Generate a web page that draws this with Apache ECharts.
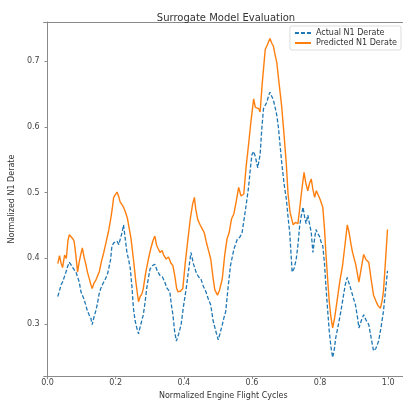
<!DOCTYPE html>
<html>
<head>
<meta charset="utf-8">
<title>Surrogate Model Evaluation</title>
<script src="https://cdn.jsdelivr.net/npm/echarts@6/dist/echarts.min.js"></script>
<style>
  html, body { margin: 0; padding: 0; background: #fff; }
  #main { width: 403px; height: 405px; }
</style>
</head>
<body>
<div id="main"></div>
<script type="text/javascript">
// values, [cycle, derate]
var actualPoints = [
  [0.030,0.342],[0.035,0.343],[0.040,0.360],[0.044,0.364],[0.049,0.366],[0.054,0.379],[0.059,0.388],[0.064,0.394],
  [0.069,0.390],[0.074,0.386],[0.078,0.386],[0.084,0.378],[0.093,0.364],[0.098,0.349],[0.102,0.346],[0.107,0.338],
  [0.112,0.329],[0.117,0.320],[0.122,0.314],[0.127,0.309],[0.131,0.299],[0.136,0.310],[0.141,0.319],[0.146,0.330],
  [0.151,0.345],[0.156,0.354],[0.163,0.362],[0.170,0.369],[0.176,0.376],[0.180,0.379],[0.185,0.398],[0.189,0.419],
  [0.195,0.424],[0.204,0.426],[0.209,0.421],[0.214,0.424],[0.219,0.440],[0.223,0.451],[0.228,0.430],[0.233,0.409],
  [0.238,0.398],[0.243,0.384],[0.248,0.355],[0.252,0.324],[0.257,0.305],[0.262,0.294],[0.267,0.285],[0.272,0.296],
  [0.281,0.314],[0.286,0.332],[0.291,0.354],[0.296,0.370],[0.301,0.384],[0.308,0.389],[0.315,0.391],[0.322,0.381],
  [0.330,0.374],[0.337,0.372],[0.344,0.364],[0.350,0.355],[0.359,0.349],[0.363,0.331],[0.368,0.314],[0.373,0.289],
  [0.378,0.274],[0.385,0.285],[0.392,0.299],[0.399,0.327],[0.407,0.354],[0.414,0.382],[0.421,0.409],[0.428,0.392],
  [0.436,0.379],[0.443,0.372],[0.450,0.369],[0.457,0.358],[0.465,0.349],[0.472,0.338],[0.479,0.329],[0.486,0.305],
  [0.494,0.289],[0.501,0.276],[0.507,0.287],[0.513,0.299],[0.518,0.310],[0.523,0.319],[0.530,0.356],[0.537,0.389],
  [0.547,0.414],[0.557,0.429],[0.564,0.432],[0.571,0.439],[0.581,0.474],[0.590,0.508],[0.596,0.540],[0.600,0.558],
  [0.605,0.563],[0.610,0.555],[0.617,0.538],[0.624,0.558],[0.629,0.598],[0.634,0.628],[0.639,0.631],[0.644,0.638],
  [0.649,0.648],[0.653,0.653],[0.658,0.647],[0.663,0.641],[0.668,0.630],[0.673,0.618],[0.678,0.598],[0.683,0.570],
  [0.687,0.548],[0.694,0.515],[0.701,0.490],[0.706,0.463],[0.711,0.439],[0.718,0.379],[0.724,0.385],[0.730,0.399],
  [0.735,0.420],[0.740,0.449],[0.745,0.465],[0.750,0.478],[0.755,0.462],[0.759,0.453],[0.764,0.466],[0.769,0.464],
  [0.774,0.440],[0.779,0.409],[0.784,0.430],[0.788,0.444],[0.793,0.438],[0.798,0.434],[0.803,0.425],[0.808,0.419],
  [0.813,0.392],[0.817,0.359],[0.822,0.323],[0.827,0.289],[0.832,0.265],[0.837,0.249],[0.842,0.262],[0.846,0.279],
  [0.853,0.297],[0.861,0.319],[0.868,0.341],[0.874,0.360],[0.880,0.371],[0.885,0.362],[0.890,0.354],[0.897,0.341],
  [0.904,0.329],[0.910,0.310],[0.914,0.294],[0.921,0.305],[0.928,0.314],[0.935,0.306],[0.943,0.299],[0.950,0.279],
  [0.957,0.259],[0.964,0.263],[0.972,0.274],[0.979,0.295],[0.986,0.319],[0.992,0.350],[0.998,0.381]
];
var predictedPoints = [
  [0.030,0.392],[0.035,0.404],[0.040,0.392],[0.044,0.386],[0.050,0.405],[0.055,0.400],[0.060,0.428],[0.064,0.436],
  [0.069,0.439],[0.074,0.430],[0.078,0.426],[0.083,0.405],[0.088,0.379],[0.093,0.395],[0.097,0.405],[0.102,0.416],
  [0.107,0.402],[0.112,0.392],[0.117,0.379],[0.122,0.370],[0.127,0.360],[0.131,0.354],[0.136,0.362],[0.141,0.366],
  [0.146,0.366],[0.152,0.380],[0.158,0.395],[0.165,0.409],[0.172,0.425],[0.180,0.444],[0.186,0.462],[0.190,0.476],
  [0.194,0.493],[0.199,0.497],[0.204,0.501],[0.209,0.494],[0.213,0.486],[0.218,0.489],[0.223,0.478],[0.229,0.470],
  [0.234,0.462],[0.238,0.459],[0.245,0.430],[0.252,0.399],[0.259,0.365],[0.264,0.345],[0.267,0.334],[0.272,0.342],
  [0.277,0.346],[0.281,0.354],[0.288,0.378],[0.296,0.399],[0.303,0.415],[0.310,0.428],[0.315,0.434],[0.320,0.420],
  [0.325,0.423],[0.330,0.409],[0.336,0.412],[0.341,0.405],[0.348,0.399],[0.355,0.402],[0.362,0.393],[0.368,0.389],
  [0.374,0.372],[0.379,0.354],[0.383,0.349],[0.390,0.350],[0.397,0.354],[0.404,0.392],[0.412,0.429],[0.419,0.460],
  [0.426,0.483],[0.431,0.493],[0.435,0.475],[0.441,0.459],[0.447,0.452],[0.454,0.445],[0.460,0.439],[0.466,0.425],
  [0.473,0.411],[0.479,0.399],[0.486,0.370],[0.491,0.352],[0.499,0.344],[0.505,0.352],[0.513,0.369],[0.520,0.405],
  [0.527,0.430],[0.533,0.439],[0.540,0.460],[0.547,0.468],[0.553,0.484],[0.561,0.508],[0.568,0.495],[0.576,0.498],
  [0.583,0.540],[0.590,0.573],[0.597,0.608],[0.605,0.643],[0.610,0.630],[0.615,0.628],[0.620,0.628],[0.624,0.623],
  [0.630,0.665],[0.639,0.718],[0.645,0.725],[0.653,0.735],[0.658,0.728],[0.663,0.723],[0.668,0.710],[0.673,0.698],
  [0.680,0.665],[0.687,0.633],[0.694,0.590],[0.701,0.543],[0.706,0.498],[0.712,0.470],[0.721,0.451],[0.728,0.455],
  [0.735,0.453],[0.740,0.475],[0.745,0.498],[0.749,0.515],[0.753,0.531],[0.758,0.515],[0.764,0.503],[0.769,0.514],
  [0.774,0.521],[0.779,0.505],[0.784,0.493],[0.789,0.503],[0.793,0.506],[0.800,0.490],[0.808,0.478],[0.813,0.445],
  [0.817,0.409],[0.822,0.370],[0.827,0.334],[0.832,0.310],[0.837,0.294],[0.843,0.310],[0.851,0.339],[0.858,0.365],
  [0.866,0.389],[0.873,0.420],[0.880,0.451],[0.885,0.440],[0.890,0.424],[0.895,0.410],[0.899,0.409],[0.905,0.390],
  [0.914,0.364],[0.921,0.385],[0.928,0.406],[0.935,0.398],[0.943,0.394],[0.950,0.368],[0.957,0.344],[0.964,0.335],
  [0.970,0.328],[0.977,0.324],[0.982,0.335],[0.986,0.349],[0.992,0.395],[0.998,0.444]
];
var xTicks = [0.0, 0.2, 0.4, 0.6, 0.8, 1.0];
var yTicks = [0.3, 0.4, 0.5, 0.6, 0.7];

var myChart = echarts.init(document.getElementById('main'));
var font = 'DejaVu Sans';
var spine = '#8a8a8a';

var option = {
  backgroundColor: '#fff',
  animation: false,
  textStyle: { fontFamily: font },
  title: {
    text: 'Surrogate Model Evaluation',
    left: 221, top: 8, textAlign: 'center',
    textStyle: { fontSize: 10, fontWeight: 'normal', color: '#333', fontFamily: font }
  },
  legend: {
    orient: 'vertical',
    right: 2, top: 26,
    padding: [3, 4, 3, 4],
    itemGap: 2,
    itemWidth: 16, itemHeight: 8,
    backgroundColor: '#fff',
    borderColor: '#ddd', borderWidth: 1, borderRadius: 2,
    itemStyle: { opacity: 0 },   // line handle only, no marker
    textStyle: { fontSize: 8, color: '#333', fontFamily: font },
    data: ['Actual N1 Derate', 'Predicted N1 Derate']
  },
  grid: { left: 39, right: 0, top: 22, bottom: 23 },
  xAxis: [{
    type: 'value',
    min: -0.0116, max: 1.0435,
    name: 'Normalized Engine Flight Cycles',
    nameLocation: 'middle', nameGap: 13,
    nameTextStyle: { fontSize: 8, color: '#333' },
    axisLine: { lineStyle: { color: spine, width: 1 } },
    axisTick: { show: true, length: 3, customValues: xTicks, lineStyle: { color: spine } },
    axisLabel: { customValues: xTicks, fontSize: 8, color: '#444', margin: 3,
      formatter: function (v) { return v.toFixed(1); } },
    splitLine: { show: false }
  }, {
    type: 'value', position: 'top',
    min: -0.0116, max: 1.0435,
    axisLine: { show: true, onZero: false, lineStyle: { color: spine, width: 1 } },
    axisTick: { show: false }, axisLabel: { show: false }, splitLine: { show: false }
  }],
  yAxis: {
    type: 'value',
    min: 0.2207, max: 0.760,
    name: 'Normalized N1 Derate',
    nameLocation: 'middle', nameGap: 20,
    nameTextStyle: { fontSize: 8, color: '#333' },
    axisLine: { show: true, lineStyle: { color: spine, width: 1 } },
    axisTick: { show: true, length: 3, customValues: yTicks, lineStyle: { color: spine } },
    axisLabel: { customValues: yTicks, fontSize: 8, color: '#444', margin: 4,
      formatter: function (v) { return v.toFixed(1); } },
    splitLine: { show: false }
  },
  series: [{
    name: 'Actual N1 Derate',
    type: 'line',
    symbol: 'none',
    data: actualPoints,
    color: '#1f77b4',
    lineStyle: { color: '#1f77b4', width: 1.3, type: [4, 2] }
  }, {
    name: 'Predicted N1 Derate',
    type: 'line',
    symbol: 'none',
    data: predictedPoints,
    color: '#ff7f0e',
    lineStyle: { color: '#ff7f0e', width: 1.4 }
  }]
};

myChart.setOption(option);
</script>
</body>
</html>
